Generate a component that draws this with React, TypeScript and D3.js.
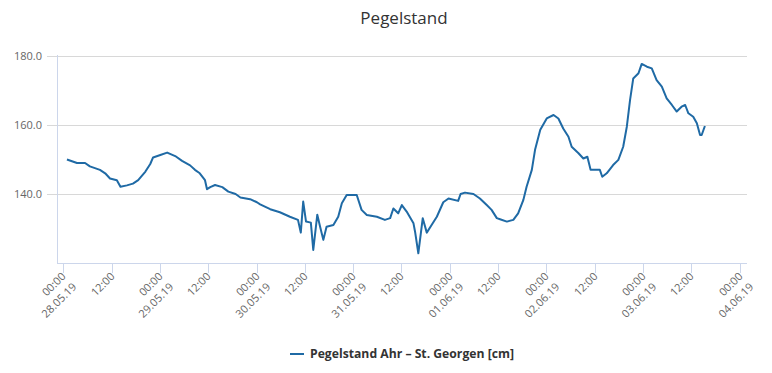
import React from 'react'
import * as d3 from 'd3'

// Hours since 28.05.19 00:00 and water level in cm
const hours = [
  0.9, 3.4, 5.4, 6.6, 9.1, 10.4, 11.6, 13.3, 14.2, 15.8, 17.3, 18.6, 20.4, 21.6, 22.3, 24.1,
  25.8, 27.8, 29.5, 31.5, 32.7, 33.9, 35.2, 35.7, 36.5, 37.7, 39.5, 41.0, 42.8, 44.0, 46.4,
  48.1, 48.9, 51.4, 53.8, 56.3, 58.3, 59.0, 59.6, 60.3, 61.5, 62.1, 63.1, 63.8, 64.6, 65.4,
  67.1, 68.3, 69.2, 70.4, 72.9, 74.1, 75.4, 77.9, 79.9, 81.2, 82.0, 83.2, 84.1, 85.3, 87.0,
  87.4, 88.2, 89.3, 90.3, 91.5, 92.8, 94.4, 95.7, 98.1, 98.7, 99.8, 101.9, 103.5, 105.2,
  106.4, 107.7, 108.5, 110.2, 111.8, 113.0, 114.3, 115.1, 116.4, 117.2, 118.5, 120.1, 121.8,
  123.0, 124.2, 125.5, 126.3, 128.0, 129.2, 130.2, 131.0, 133.3, 133.9, 135.0, 136.6, 137.9,
  139.1, 140.0, 140.8, 141.6, 142.9, 143.7, 145.0, 146.2, 147.4, 148.7, 149.9, 151.2, 152.4,
  153.6, 154.5, 155.3, 156.5, 157.4, 158.2, 158.6, 159.4,
]
const levels = [
  150, 149, 149, 148, 147, 146, 144.5, 144, 142.1, 142.5, 143, 144, 146.5, 148.7, 150.6, 151.3,
  152, 151, 149.6, 148.3, 147, 146, 144, 141.4, 142, 142.6, 142, 140.7, 140, 139, 138.5,
  137.6, 137, 135.6, 134.7, 133.4, 132.5, 128.8, 137.8, 132, 131.7, 123.8, 134, 130.5, 126.7, 130.5,
  131, 133.4, 137.3, 139.7, 139.7, 135.4, 133.9, 133.4, 132.5, 133, 135.8, 134.4, 136.8, 134.9, 131.5,
  129, 122.8, 133, 128.8, 131, 133.4, 137.6, 138.7, 138, 140, 140.4, 140, 138.7, 136.8,
  135.4, 133, 132.7, 132, 132.5, 134.4, 138.3, 142.1, 147, 152.8, 158.6, 161.9, 162.9,
  161.9, 159, 156.6, 153.7, 151.8, 150.3, 150.8, 147, 147, 145, 146, 148.4, 149.9,
  153.7, 159.5, 167.2, 173.5, 175, 177.7, 176.9, 176.4, 173, 171.1, 167.7, 165.8, 163.9,
  165.3, 165.8, 163.4, 162.4, 160.5, 157.1, 157.1, 159.7,
]
const yTicks = [140, 160, 180]
const tickHours = [0, 12, 24, 36, 48, 60, 72, 84, 96, 108, 120, 132, 144, 156, 168]

const title = 'Pegelstand'
const seriesName = 'Pegelstand Ahr – St. Georgen [cm]'

const start = Date.UTC(2019, 4, 28, 0, 0)
const H = 3600 * 1000
const fmtTime = d3.utcFormat('%H:%M')
const fmtDate = d3.utcFormat('%d.%m.%y')

export default function App() {
  const width = 772
  const height = 373
  const left = 57
  const right = 747
  const top = 56
  const bottom = 263

  const x = d3.scaleUtc()
    .domain([new Date(start - 1.57 * H), new Date(start + 169.86 * H)])
    .range([left, right])
  const y = d3.scaleLinear().domain([120, 180]).range([bottom, top])

  const data = hours.map((h, i) => ({ t: new Date(start + h * H), v: levels[i] }))
  const line = d3.line<{ t: Date; v: number }>()
    .x(d => x(d.t))
    .y(d => y(d.v))

  const font = '"Open Sans", "DejaVu Sans", sans-serif'
  const lineColor = '#1f6aa5'

  return (
    <svg width={width} height={height} style={{ position: 'absolute', left: 0, top: 0 }} fontFamily={font}>
      <rect width={width} height={height} fill="#fff" />
      <text x={404} y={24} textAnchor="middle" fontSize={17} fill="#333">{title}</text>

      {/* grid */}
      {yTicks.map(v => (
        <g key={v}>
          <line x1={left - 10} x2={right} y1={y(v) + 0.5} y2={y(v) + 0.5} stroke="#d8d8d8" />
          <text x={42} y={y(v) + 4} textAnchor="end" fontSize={11} fill="#666">{v.toFixed(1)}</text>
        </g>
      ))}

      {/* axes */}
      <line x1={left + 0.5} x2={left + 0.5} y1={top - 1} y2={bottom} stroke="#ccd6eb" />
      <line x1={left} x2={right} y1={bottom + 0.5} y2={bottom + 0.5} stroke="#ccd6eb" />
      {tickHours.map(h => {
        const d = new Date(start + h * H)
        const px = Math.round(x(d)) + 0.5
        const midnight = h % 24 === 0
        return (
          <g key={h}>
            <line x1={px} x2={px} y1={bottom} y2={bottom + 10} stroke="#ccd6eb" />
            <text transform={`translate(${px + 3},${bottom + 14}) rotate(-45)`} textAnchor="end" fontSize={11} fill="#666">
              <tspan x={0} dy={0}>{fmtTime(d)}</tspan>
              {midnight && <tspan x={0} dy={15}>{fmtDate(d)}</tspan>}
            </text>
          </g>
        )
      })}

      <path d={line(data) || ''} fill="none" stroke={lineColor} strokeWidth={2} strokeLinejoin="round" />

      {/* legend */}
      <line x1={290} x2={304} y1={354} y2={354} stroke={lineColor} strokeWidth={2} />
      <text x={310} y={358} fontSize={12.2} fontWeight="bold" fill="#333">{seriesName}</text>
    </svg>
  )
}
